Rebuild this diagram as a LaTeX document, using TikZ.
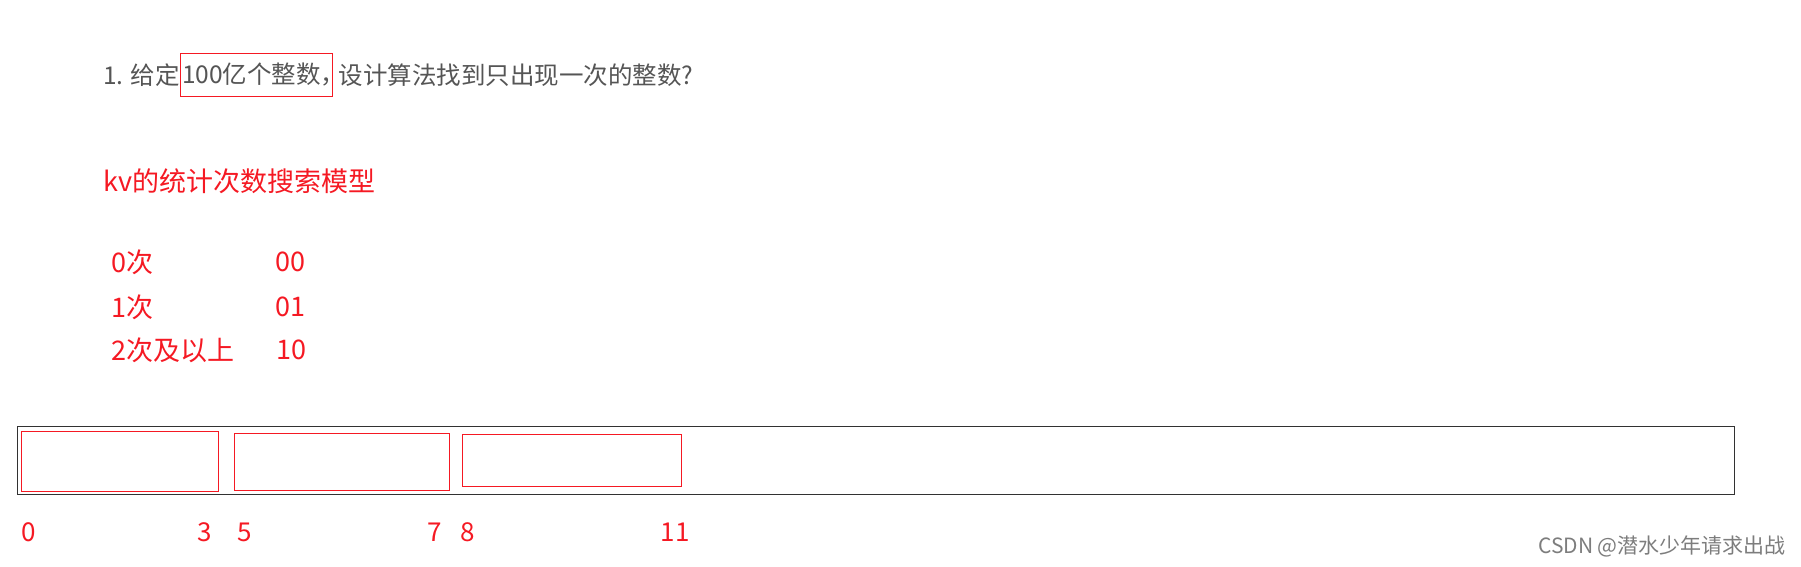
\documentclass[tikz,border=0pt]{standalone}
\usepackage{fontspec}
\setmainfont{Noto Sans CJK SC}
\usetikzlibrary{positioning}
\definecolor{markred}{RGB}{245,25,35}
\definecolor{titlegray}{RGB}{85,85,85}
\definecolor{framegray}{RGB}{50,50,50}
\definecolor{signgray}{RGB}{125,125,125}

\begin{document}
\begin{tikzpicture}[x=1pt,y=-1pt,
  title/.style={text=titlegray,inner sep=0pt,font=\fontsize{24.5}{29}\selectfont},
  redtxt/.style={text=markred,inner sep=0pt,anchor=west,font=\fontsize{27}{31}\selectfont},
  num/.style={text=markred,inner sep=0pt,font=\fontsize{26}{30}\selectfont},
  slot/.style={draw=markred,line width=0.8pt,inner sep=0pt,anchor=north west}]
\useasboundingbox (0,0) rectangle (1801,567);

% question line
\node[title,anchor=west] at (103,75) (q1) {1. 给定};
\node[title,draw=markred,line width=0.8pt,inner xsep=1.5pt,minimum height=43pt,right=0pt of q1] (q2) {100亿个整数，\kern-0.6em};
\node[title,right=6pt of q2] (q3) {设计算法找到只出现一次的整数?};

% model
\node[redtxt] at (103,181) (model) {kv的统计次数搜索模型};
\node[redtxt] at (111,262) (c0) {0次};
\node[redtxt] at (275,262) (v0) {00};
\node[redtxt] at (111,307) (c1) {1次};
\node[redtxt] at (275,307) (v1) {01};
\node[redtxt] at (111,350) (c2) {2次及以上};
\node[redtxt] at (276,350) (v2) {10};

% bitmap
\node[draw=framegray,line width=0.9pt,inner sep=0pt,anchor=north west,minimum width=1717pt,minimum height=68pt] at (17,426) (bits) {};
\node[slot,minimum width=197pt,minimum height=60pt] at (21,431) (s1) {};
\node[slot,minimum width=215pt,minimum height=57pt] at (234,433) (s2) {};
\node[slot,minimum width=219pt,minimum height=52pt] at (462,434) (s3) {};

\node[num] at (29,532) (n0) {0};
\node[num] at (205,532) (n3) {3};
\node[num] at (245,532) (n5) {5};
\node[num] at (435,532) (n7) {7};
\node[num] at (468,532) (n8) {8};
\node[num] at (675,532) (n11) {11};

\node[text=signgray,inner sep=0pt,anchor=east,font=\fontsize{21}{25}\selectfont] at (1786,546) (sign) {CSDN @潜水少年请求出战};
\end{tikzpicture}
\end{document}
